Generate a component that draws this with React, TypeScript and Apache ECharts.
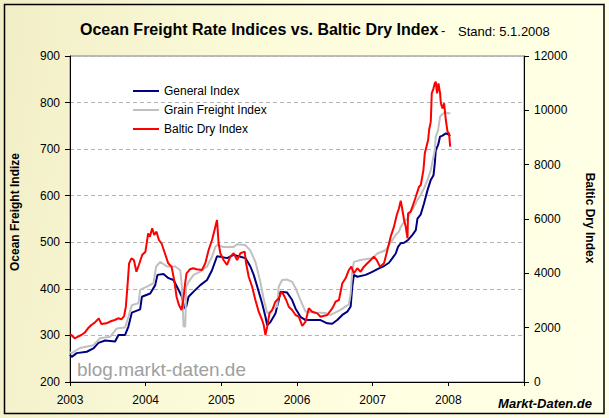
import React, { useEffect, useRef } from "react";
import * as echarts from "echarts";

const FONT = "'Liberation Sans', Arial, sans-serif";

const yearTicks = [2003, 2004, 2005, 2006, 2007, 2008, 2009];
const leftTicks = [200, 300, 400, 500, 600, 700, 800, 900];
const rightTicks = [0, 2000, 4000, 6000, 8000, 10000, 12000];
const seriesNames = ["General Index", "Grain Freight Index", "Baltic Dry Index"];

const generalIndex: [number, number][] = [
  [2003.0, 258], [2003.023, 254], [2003.089, 262], [2003.221, 265], [2003.309, 272],
  [2003.375, 284], [2003.464, 289], [2003.596, 287], [2003.64, 301], [2003.728, 301],
  [2003.772, 319], [2003.817, 349], [2003.927, 356], [2003.95, 383], [2004.06, 390],
  [2004.126, 408], [2004.156, 430], [2004.236, 432], [2004.302, 423], [2004.368, 419],
  [2004.434, 398], [2004.479, 383], [2004.51, 358], [2004.536, 362], [2004.567, 383],
  [2004.633, 394], [2004.722, 408], [2004.811, 419], [2004.877, 440], [2004.943, 470],
  [2004.987, 469], [2005.075, 466], [2005.163, 473], [2005.252, 469], [2005.318, 466],
  [2005.384, 448], [2005.428, 430], [2005.494, 394], [2005.539, 369], [2005.583, 340],
  [2005.606, 322], [2005.649, 329], [2005.715, 347], [2005.759, 376], [2005.781, 394],
  [2005.87, 392], [2005.936, 376], [2005.98, 358], [2006.046, 340], [2006.113, 333],
  [2006.311, 333], [2006.4, 326], [2006.466, 325], [2006.532, 333], [2006.599, 344],
  [2006.665, 351], [2006.709, 362], [2006.731, 405], [2006.752, 430], [2006.797, 426],
  [2006.907, 430], [2006.974, 435], [2007.083, 444], [2007.15, 449], [2007.216, 456],
  [2007.261, 466], [2007.305, 476], [2007.335, 490], [2007.371, 498], [2007.415, 499],
  [2007.468, 505], [2007.526, 516], [2007.57, 526], [2007.592, 551], [2007.636, 560],
  [2007.679, 584], [2007.725, 612], [2007.768, 634], [2007.804, 644], [2007.821, 669],
  [2007.834, 698], [2007.865, 709], [2007.891, 727], [2007.923, 729], [2007.967, 734],
  [2007.997, 732], [2008.024, 728],
];

const grainFreightIndex: [number, number][] = [
  [2003.0, 264], [2003.023, 262], [2003.132, 273], [2003.309, 279], [2003.397, 294],
  [2003.53, 297], [2003.618, 315], [2003.728, 317], [2003.772, 340], [2003.817, 365],
  [2003.905, 369], [2003.927, 398], [2004.016, 405], [2004.103, 412], [2004.139, 448],
  [2004.192, 458], [2004.281, 448], [2004.391, 448], [2004.457, 440], [2004.479, 405],
  [2004.501, 319], [2004.523, 319], [2004.536, 405], [2004.567, 415], [2004.633, 430],
  [2004.722, 437], [2004.811, 448], [2004.877, 469], [2004.921, 490], [2004.943, 494],
  [2005.03, 490], [2005.163, 490], [2005.208, 496], [2005.318, 494], [2005.384, 482],
  [2005.45, 458], [2005.517, 414], [2005.56, 378], [2005.606, 348], [2005.649, 351],
  [2005.693, 359], [2005.738, 362], [2005.759, 405], [2005.804, 419], [2005.87, 420],
  [2005.936, 415], [2005.98, 402], [2006.046, 376], [2006.113, 351], [2006.245, 349],
  [2006.377, 348], [2006.444, 344], [2006.576, 355], [2006.686, 367], [2006.709, 390],
  [2006.731, 440], [2006.752, 458], [2006.841, 462], [2006.996, 466], [2007.062, 476],
  [2007.172, 483], [2007.216, 494], [2007.261, 505], [2007.305, 516], [2007.348, 523],
  [2007.371, 533], [2007.415, 544], [2007.46, 551], [2007.503, 566], [2007.547, 576],
  [2007.592, 591], [2007.636, 602], [2007.679, 616], [2007.725, 634], [2007.768, 655],
  [2007.821, 698], [2007.834, 727], [2007.865, 741], [2007.891, 770], [2007.954, 780],
  [2007.989, 777], [2008.026, 777],
];

const balticDryIndex: [number, number][] = [
  [2003.0, 1767], [2003.017, 1730], [2003.062, 1608], [2003.106, 1668], [2003.15, 1730],
  [2003.195, 1815], [2003.238, 1976], [2003.282, 2098], [2003.327, 2183], [2003.38, 2344],
  [2003.415, 2135], [2003.481, 2159], [2003.547, 2245], [2003.592, 2282], [2003.636, 2344],
  [2003.679, 2307], [2003.715, 2429], [2003.738, 2772], [2003.759, 3508], [2003.781, 4369],
  [2003.812, 4553], [2003.844, 4491], [2003.878, 4061], [2003.91, 4307], [2003.954, 4675],
  [2003.997, 4797], [2004.033, 5472], [2004.056, 5349], [2004.086, 5657], [2004.113, 5411],
  [2004.143, 5533], [2004.175, 5227], [2004.209, 5106], [2004.254, 4738], [2004.298, 4369],
  [2004.342, 4245], [2004.377, 3755], [2004.408, 3140], [2004.44, 2834], [2004.474, 2650],
  [2004.497, 3018], [2004.519, 3571], [2004.54, 4000], [2004.585, 4148], [2004.629, 4185],
  [2004.673, 4150], [2004.744, 4123], [2004.788, 4369], [2004.832, 4859], [2004.877, 5227],
  [2004.921, 5717], [2004.943, 5963], [2004.964, 5106], [2004.987, 4738], [2005.03, 4491],
  [2005.075, 4307], [2005.119, 4613], [2005.163, 4738], [2005.208, 4491], [2005.252, 4738],
  [2005.309, 4797], [2005.327, 4369], [2005.362, 3876], [2005.407, 3508], [2005.45, 3018],
  [2005.494, 2588], [2005.539, 2282], [2005.56, 2098], [2005.583, 1730], [2005.606, 2036],
  [2005.636, 2527], [2005.672, 2650], [2005.715, 2956], [2005.759, 3080], [2005.795, 3324],
  [2005.825, 3202], [2005.857, 3018], [2005.891, 2772], [2005.936, 2650], [2005.98, 2466],
  [2006.024, 2404], [2006.069, 2061], [2006.113, 2220], [2006.156, 2713], [2006.201, 2588],
  [2006.268, 2527], [2006.311, 2404], [2006.4, 2466], [2006.466, 2711], [2006.51, 2956],
  [2006.554, 3018], [2006.599, 3633], [2006.642, 3817], [2006.686, 4123], [2006.718, 4245],
  [2006.752, 4001], [2006.797, 4185], [2006.841, 4061], [2006.885, 4245], [2006.93, 4369],
  [2006.974, 4491], [2007.017, 4613], [2007.053, 4491], [2007.097, 4245], [2007.15, 4369],
  [2007.195, 4859], [2007.238, 5349], [2007.282, 5717], [2007.318, 6147], [2007.348, 6394],
  [2007.371, 6674], [2007.393, 6332], [2007.415, 5963], [2007.437, 5717], [2007.46, 5290],
  [2007.468, 6210], [2007.503, 6269], [2007.526, 6453], [2007.57, 6821], [2007.613, 7190],
  [2007.636, 7252], [2007.671, 7804], [2007.689, 8418], [2007.733, 8908], [2007.746, 9276],
  [2007.768, 9583], [2007.781, 10627], [2007.804, 10811], [2007.821, 10995], [2007.834, 11055],
  [2007.851, 10627], [2007.87, 10995], [2007.891, 10627], [2007.901, 10259], [2007.923, 10070],
  [2007.944, 10259], [2007.967, 9644], [2007.989, 9214], [2008.01, 9150], [2008.024, 8663],
];

function txt(text: string, x: number, y: number, extra: any = {}, rotation = 0) {
  const align = extra.align || "left";
  const va = extra.verticalAlign || "middle";
  return {
    type: "text",
    x,
    y,
    rotation,
    z: 100,
    style: {
      text,
      fill: extra.fill || "#000",
      fontSize: extra.fontSize || 12,
      fontWeight: extra.fontWeight || "normal",
      fontStyle: extra.fontStyle || "normal",
      fontFamily: FONT,
      align,
      verticalAlign: va,
      textAlign: align,
      textVerticalAlign: va,
    },
  };
}

export default function App() {
  const ref = useRef<HTMLDivElement>(null);
  useEffect(() => {
    if (!ref.current) return;
    const chart = echarts.init(ref.current, null, { renderer: "svg" });
    const axisLabel = { color: "#000", fontSize: 12, fontFamily: FONT };
    chart.setOption({
      animation: false,
      backgroundColor: "transparent",
      textStyle: { fontFamily: FONT },
      grid: {
        left: 70,
        right: 85,
        top: 56,
        bottom: 36,
        show: true,
        backgroundColor: "#FFFFFF",
        borderColor: "#808080",
        borderWidth: 1,
      },
      legend: {
        data: seriesNames,
        orient: "vertical",
        left: 133,
        top: 85,
        padding: 0,
        itemGap: 7,
        itemWidth: 26,
        itemHeight: 2,
        icon: "rect",
        textStyle: { color: "#000", fontSize: 12, fontFamily: FONT },
      },
      xAxis: {
        type: "value",
        min: yearTicks[0],
        max: yearTicks[yearTicks.length - 1],
        interval: 1,
        axisLine: { show: true, onZero: false, lineStyle: { color: "#000", width: 1 } },
        axisTick: { show: true, inside: false, length: 4, lineStyle: { color: "#000" } },
        splitLine: { show: false },
        axisLabel: {
          ...axisLabel,
          margin: 12,
          formatter: (v: number) => (v >= 2009 ? "" : String(v)),
        },
      },
      yAxis: [
        {
          type: "value",
          min: leftTicks[0],
          max: leftTicks[leftTicks.length - 1],
          interval: 100,
          position: "left",
          axisLine: { show: true, lineStyle: { color: "#000", width: 1 } },
          axisTick: { show: true, inside: false, length: 5, lineStyle: { color: "#000" } },
          splitLine: { show: true, lineStyle: { color: "#B4B4B4", type: [4, 3], width: 1 } },
          axisLabel: { ...axisLabel, margin: 10, formatter: (v: number) => String(v) },
        },
        {
          type: "value",
          min: rightTicks[0],
          max: rightTicks[rightTicks.length - 1],
          interval: 2000,
          position: "right",
          axisLine: { show: true, lineStyle: { color: "#000", width: 1 } },
          axisTick: { show: true, inside: false, length: 5, lineStyle: { color: "#000" } },
          splitLine: { show: false },
          axisLabel: { ...axisLabel, margin: 10, formatter: (v: number) => String(v) },
        },
      ],
      series: [
        {
          name: seriesNames[0],
          type: "line",
          data: generalIndex,
          yAxisIndex: 0,
          showSymbol: false,
          symbol: "none",
          color: "#000080",
          lineStyle: { color: "#000080", width: 2 },
        },
        {
          name: seriesNames[1],
          type: "line",
          data: grainFreightIndex,
          yAxisIndex: 0,
          showSymbol: false,
          symbol: "none",
          color: "#C0C0C0",
          lineStyle: { color: "#C0C0C0", width: 2 },
        },
        {
          name: seriesNames[2],
          type: "line",
          data: balticDryIndex,
          yAxisIndex: 1,
          showSymbol: false,
          symbol: "none",
          color: "#FF0000",
          lineStyle: { color: "#FF0000", width: 2 },
        },
      ],
      graphic: [
        {
          type: "rect",
          z: 100,
          shape: { x: 4.5, y: 4.5, width: 599.5, height: 409 },
          style: { fill: "none", stroke: "#000", lineWidth: 1.5 },
        },
        txt("Ocean Freight Rate Indices vs. Baltic Dry Index", 80, 29, { fontSize: 16, fontWeight: "bold" }),
        txt("-", 441, 30, { fontSize: 13 }),
        txt("Stand: 5.1.2008", 458, 31, { fontSize: 13 }),
        txt("Ocean Freight Indize", 15, 212, { fontSize: 12, fontWeight: "bold", align: "center" }, Math.PI / 2),
        txt("Baltic Dry Index", 590, 218, { fontSize: 12, fontWeight: "bold", align: "center" }, -Math.PI / 2),
        txt("blog.markt-daten.de", 77, 369, { fontSize: 19, fill: "#A0A0A0" }),
        txt("Markt-Daten.de", 592, 403, { fontSize: 13, fontWeight: "bold", fontStyle: "italic", align: "right" }),
      ],
    });
    return () => chart.dispose();
  }, []);
  return (
    <div
      ref={ref}
      style={{
        position: "fixed",
        left: 0,
        top: 0,
        width: 609,
        height: 418,
        background: "linear-gradient(100deg, #F1EEC6 0%, #FBFAD8 35%, #FFFFE2 70%, #FFFFE8 100%)",
      }}
    />
  );
}
